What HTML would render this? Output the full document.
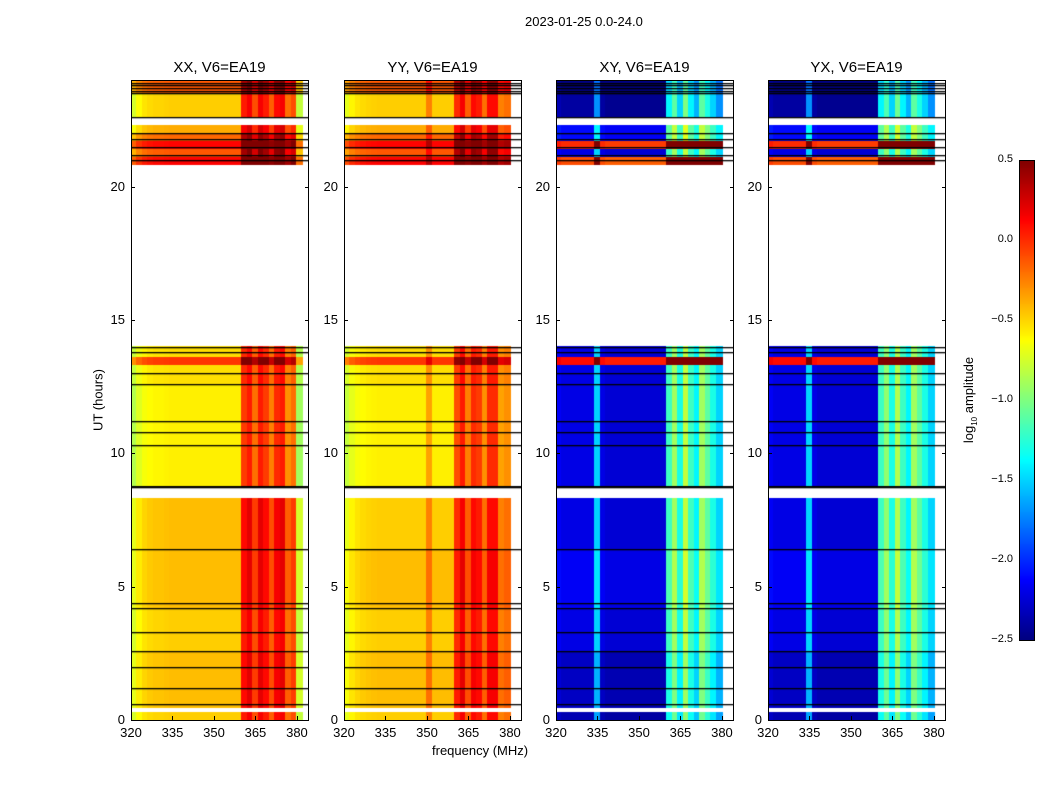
<!DOCTYPE html>
<html><head><meta charset="utf-8">
<style>
body{margin:0;background:#fff;font-family:"Liberation Sans",sans-serif;}
#wrap{position:relative;width:1050px;height:800px;overflow:hidden;}
.t{position:absolute;font-size:13px;color:#000;white-space:nowrap;}
.ttl{position:absolute;font-size:15px;white-space:nowrap;transform:translateX(-50%);}
canvas{position:absolute;}
.frame{position:absolute;border:1px solid #000;box-sizing:border-box;pointer-events:none;}
</style></head><body>
<div id="wrap">
<div class="t" style="left:525px;top:14px">2023-01-25 0.0-24.0</div>
<div class="t" style="left:432px;top:743px">frequency (MHz)</div>
<div class="t" style="left:98px;top:400px;transform:translate(-50%,-50%) rotate(-90deg)">UT (hours)</div>
<div class="t" style="left:970px;top:400px;transform:translate(-50%,-50%) rotate(-90deg)">log<sub style="font-size:8px">10</sub> amplitude</div>
</div>
<script>
// ---- data ----
const panelTitles = ["XX, V6=EA19","YY, V6=EA19","XY, V6=EA19","YX, V6=EA19"];
const freqStart = 320, freqStep = 2;
const profileXX = [-0.75,-0.62,-0.55,-0.52,-0.5,-0.5,-0.49,-0.48,-0.48,-0.48,-0.48,-0.48,-0.48,-0.48,-0.48,-0.48,-0.48,-0.48,-0.48,-0.48,0.05,0.15,-0.1,0.15,0.05,-0.15,0.1,0.15,-0.2,-0.1,-0.8,null];
const profileYY = [-0.7,-0.6,-0.55,-0.52,-0.5,-0.49,-0.48,-0.48,-0.48,-0.48,-0.48,-0.48,-0.48,-0.48,-0.48,-0.25,-0.48,-0.48,-0.48,-0.48,0.0,0.15,-0.15,0.1,0.05,-0.2,0.1,0.1,-0.25,-0.2,null,null];
const profileXY = [-2.15,-2.2,-2.2,-2.2,-2.2,-2.2,-2.2,-1.5,-2.2,-2.25,-2.25,-2.25,-2.25,-2.25,-2.25,-2.25,-2.25,-2.25,-2.25,-2.25,-1.2,-0.9,-1.3,-0.8,-1.2,-1.4,-0.9,-1.1,-1.3,-1.5,null,null];
const profileYX = [-2.15,-2.2,-2.2,-2.2,-2.2,-2.2,-2.2,-1.5,-2.2,-2.25,-2.25,-2.25,-2.25,-2.25,-2.25,-2.25,-2.25,-2.25,-2.25,-2.25,-1.2,-0.95,-1.3,-0.85,-1.2,-1.4,-0.9,-1.1,-1.3,-1.5,null,null];
const segStart = [0.0,0.45,2.6,4.2,6.4,8.7,12.6,13.3,13.6,20.8,21.1,21.4,21.7,22.0,22.6,23.5];
const segEnd   = [0.3,2.6,4.2,6.4,8.3,12.6,13.3,13.6,14.0,21.1,21.4,21.7,22.0,22.3,23.5,24.0];
const offsetXX = [0.0,0.05,0.0,0.05,0.05,-0.1,-0.05,0.45,-0.05,0.6,0.35,0.6,0.3,0.1,0.0,0.35];
const offsetYY = [0.0,0.05,0.0,0.05,0.0,-0.1,-0.05,0.45,-0.05,0.6,0.35,0.6,0.3,0.1,0.0,0.35];
const offsetXY = [-0.15,-0.1,0.0,0.05,0.0,0.0,0.0,2.3,0.0,2.1,0.0,2.2,0.1,0.1,-0.2,-0.3];
const offsetYX = [-0.15,-0.1,0.0,0.05,0.0,0.0,0.0,2.3,0.0,2.1,0.0,2.2,0.1,0.1,-0.2,-0.3];
const flagLines = [0.6,1.2,2.0,2.6,3.3,4.2,4.4,6.4,8.72,8.78,10.3,10.8,11.2,12.6,13.0,13.8,14.0,21.0,21.2,21.5,21.8,22.0,22.6,23.5,23.6,23.7,23.8,23.9];
const yTicks = [0,5,10,15,20];
const xTicks = [320,335,350,365,380];
const cbTicks = [0.5,0.0,-0.5,-1.0,-1.5,-2.0,-2.5];
const panelLeft = [131,344,556,768];
// ---- axes ----
const plotTop=80, plotH=640, plotW=177, fMin=320, fMax=384, tMax=24, vMin=-2.5, vMax=0.5;
const xs = f => (f-fMin)/(fMax-fMin)*plotW;
const ys = t => plotH - t/tMax*plotH;
function jet(v){
  let x=(v-vMin)/(vMax-vMin); x=Math.max(0,Math.min(1,x));
  const c=a=>Math.round(255*Math.max(0,Math.min(1,a)));
  return `rgb(${c(1.5-Math.abs(4*x-3))},${c(1.5-Math.abs(4*x-2))},${c(1.5-Math.abs(4*x-1))})`;
}
const wrap=document.getElementById('wrap');
const profiles=[profileXX,profileYY,profileXY,profileYX];
const offsets=[offsetXX,offsetYY,offsetXY,offsetYX];
const names=['xx','yy','xy','yx'];
panelLeft.forEach((L,p)=>{
  const cv=document.createElement('canvas');
  cv.width=plotW; cv.height=plotH;
  cv.style.left=L+'px'; cv.style.top=plotTop+'px';
  
  
  wrap.appendChild(cv);
  const ctx=cv.getContext('2d');
  segStart.forEach((s,j)=>{
    profiles[p].forEach((v,i)=>{
      if(v===null) return;
      const f0=freqStart+i*freqStep, f1=f0+freqStep;
      const x0=xs(f0), x1=xs(f1), y0=ys(segEnd[j]), y1=ys(s);
      ctx.fillStyle=jet(v+offsets[p][j]);
      ctx.fillRect(Math.floor(x0),Math.floor(y0),Math.ceil(x1-x0)+1,Math.ceil(y1-y0));
    });
  });
  ctx.fillStyle='#000';
  flagLines.forEach(h=>{ctx.fillRect(0,Math.round(ys(h)),plotW,1.3);});
  const fr=document.createElement('div');
  fr.className='frame';
  fr.style.cssText=`left:${L}px;top:${plotTop}px;width:${plotW+1}px;height:${plotH+1}px`;
  
  
  wrap.appendChild(fr);
  const tt=document.createElement('div');
  tt.className='ttl'; tt.textContent=panelTitles[p];
  tt.style.left=(L+plotW/2)+'px'; tt.style.top='59px';
  
  
  wrap.appendChild(tt);
  yTicks.forEach(t=>{
    const lb=document.createElement('div');
    lb.className='t'; lb.textContent=t;
    lb.style.left=(L-6)+'px'; lb.style.top=(plotTop+ys(t)-8)+'px'; lb.style.transform='translateX(-100%)';
    
    
    wrap.appendChild(lb);
    const tk=document.createElement('div');
    tk.style.cssText=`position:absolute;left:${L}px;top:${plotTop+ys(t)}px;width:4px;height:1px;background:#000`;
    
    
    wrap.appendChild(tk);
    const tk2=tk.cloneNode(); tk2.style.left=(L+plotW-3)+'px'; wrap.appendChild(tk2);
  });
  xTicks.forEach(f=>{
    const lb=document.createElement('div');
    lb.className='t'; lb.textContent=f;
    lb.style.left=(L+xs(f))+'px'; lb.style.top=(plotTop+plotH+5)+'px'; lb.style.transform='translateX(-50%)';
    
    
    wrap.appendChild(lb);
    const tk=document.createElement('div');
    tk.style.cssText=`position:absolute;left:${L+xs(f)}px;top:${plotTop+plotH-4}px;width:1px;height:4px;background:#000`;
    
    
    wrap.appendChild(tk);
  });
});
// colorbar
const cbL=1019, cbT=160, cbW=15, cbH=480;
const cb=document.createElement('canvas');
cb.width=cbW; cb.height=cbH; cb.style.left=cbL+'px'; cb.style.top=cbT+'px';


wrap.appendChild(cb);
const cctx=cb.getContext('2d');
for(let y=0;y<cbH;y++){cctx.fillStyle=jet(vMax-(y+0.5)/cbH*(vMax-vMin));cctx.fillRect(0,y,cbW,1);}
const cfr=document.createElement('div');
cfr.className='frame'; cfr.style.cssText=`left:${cbL}px;top:${cbT}px;width:${cbW+1}px;height:${cbH+1}px`;


wrap.appendChild(cfr);
cbTicks.forEach(v=>{
  const y=cbT+(vMax-v)/(vMax-vMin)*cbH;
  const lb=document.createElement('div');
  lb.className='t'; lb.style.fontSize='11px';
  lb.textContent=(v<0?'\u2212':'')+Math.abs(v).toFixed(1);
  lb.style.left='1013px'; lb.style.top=(y-7)+'px'; lb.style.transform='translateX(-100%)';
  
  
  wrap.appendChild(lb);
});
</script>
</body></html>
